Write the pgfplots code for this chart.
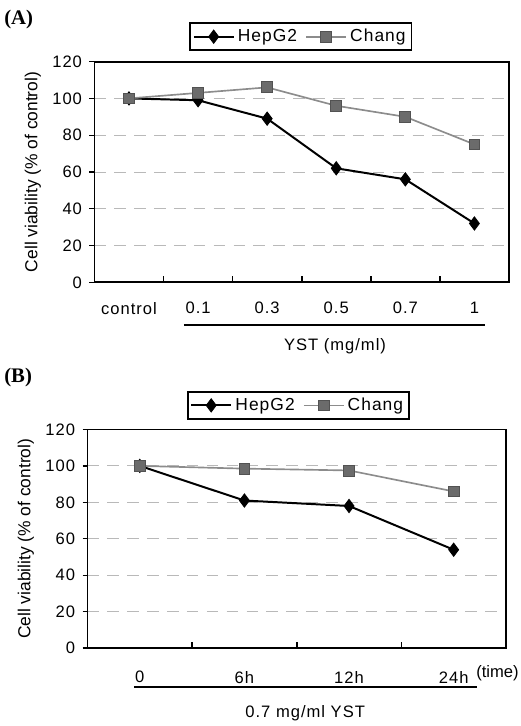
\documentclass[border=0pt]{standalone}
\usepackage{pgfplots}
\pgfplotsset{compat=1.18}
\usepackage{fontspec}
\setmainfont{Liberation Sans}
\newfontfamily\panelfont{Liberation Serif}
\newfontfamily\spaced[LetterSpace=6]{Liberation Sans}

\definecolor{changline}{gray}{0.55}
\definecolor{changfill}{gray}{0.42}
\definecolor{changdraw}{gray}{0.32}

\pgfplotsset{
  viability/.style={
    scale only axis,
    anchor=south west,
    axis line style={line width=1.1pt},
    ymin=0, ymax=120, ytick={0,20,...,120},
    ytick pos=left, xtick pos=bottom,
    ymajorgrids,
    major grid style={gray!55, dash pattern=on 7pt off 5pt, line width=0.5pt},
    major tick length=3pt,
    minor tick length=4pt,
    y tick style={xshift=-3pt, line width=0.8pt, black},
    major x tick style={draw=none},
    minor x tick style={line width=1pt, black},
    tick label style={font=\spaced\fontsize{10}{12}\selectfont},
    /pgf/number format/assume math mode=true,
    yticklabel style={xshift=-4pt},
    ylabel={Cell viability (\% of control)},
    ylabel style={font=\fontsize{10.5}{12}\selectfont},
    legend columns=2,
    legend style={draw=black, line width=1.1pt, anchor=center,
      font=\spaced\fontsize{10.5}{12}\selectfont,
      inner sep=1.5pt,
      /tikz/every even column/.append style={column sep=3pt}},
    legend image code/.code={%
      \draw[mark repeat=2, mark phase=2] plot coordinates {(0pt,0pt) (12pt,0pt) (24pt,0pt)};},
  },
  hep/.style={black, line width=1.2pt, mark=diamond*, mark size=4pt,
    mark options={solid, fill=black, line width=0.5pt}},
  chg/.style={changline, line width=1pt, mark=square*, mark size=3.3pt,
    mark options={solid, fill=changfill, draw=changdraw, line width=0.5pt}},
}

\begin{document}
\begin{tikzpicture}

% (A) dose response
\begin{axis}[viability,
  at={(57pt,-170.4pt)},
  width=250.2pt, height=133.2pt,
  xmin=-0.5, xmax=5.5,
  xtick={0,1,2,3,4,5},
  xticklabels={control,0.1,0.3,0.5,0.7,1},
  minor xtick={0.5,1.5,2.5,3.5,4.5},
  xticklabel style={yshift=-8.5pt},
  legend style={at={(0.498,1.113)}},
]
\addplot[hep] coordinates {(0,100) (1,99) (2,89) (3,62) (4,56) (5,32)};
\addplot[chg] coordinates {(0,100) (1,103) (2,106) (3,96) (4,90) (5,75)};
\legend{HepG2,Chang}
\end{axis}

% (B) time course
\begin{axis}[viability,
  at={(52.8pt,-391.2pt)},
  width=252.6pt, height=132pt,
  xmin=-0.5, xmax=3.5,
  xtick={0,1,2,3},
  xticklabels={0,6h,12h,24h},
  minor xtick={0.5,1.5,2.5},
  xticklabel style={yshift=-10.5pt},
  legend style={at={(0.504,1.11)}},
]
\addplot[hep] coordinates {(0,100) (1,81) (2,78) (3,54)};
\addplot[chg] coordinates {(0,100) (1,98.5) (2,97.5) (3,86)};
\legend{HepG2,Chang}
\end{axis}

\begin{scope}[x=0.6pt, y=-0.6pt]
  \path (0,0) rectangle (524,726);
  \node[anchor=west, inner sep=0pt, font=\panelfont\bfseries\fontsize{12.5}{14}\selectfont] at (4,20) {(A)};
  \node[anchor=west, inner sep=0pt, font=\panelfont\bfseries\fontsize{12.5}{14}\selectfont] at (4,380) {(B)};
  \draw[line width=0.9pt] (185,327) -- (488,327);
  \node[font=\spaced\fontsize{10}{12}\selectfont] at (337,348) {YST (mg/ml)};
  \draw[line width=0.9pt] (135,691) -- (480,691);
  \node[font=\fontsize{10}{12}\selectfont, anchor=east, inner sep=0pt] at (522,677) {(time)};
  \node[font=\spaced\fontsize{10}{12}\selectfont] at (307,717) {0.7 mg/ml YST};
\end{scope}

\end{tikzpicture}
\end{document}
